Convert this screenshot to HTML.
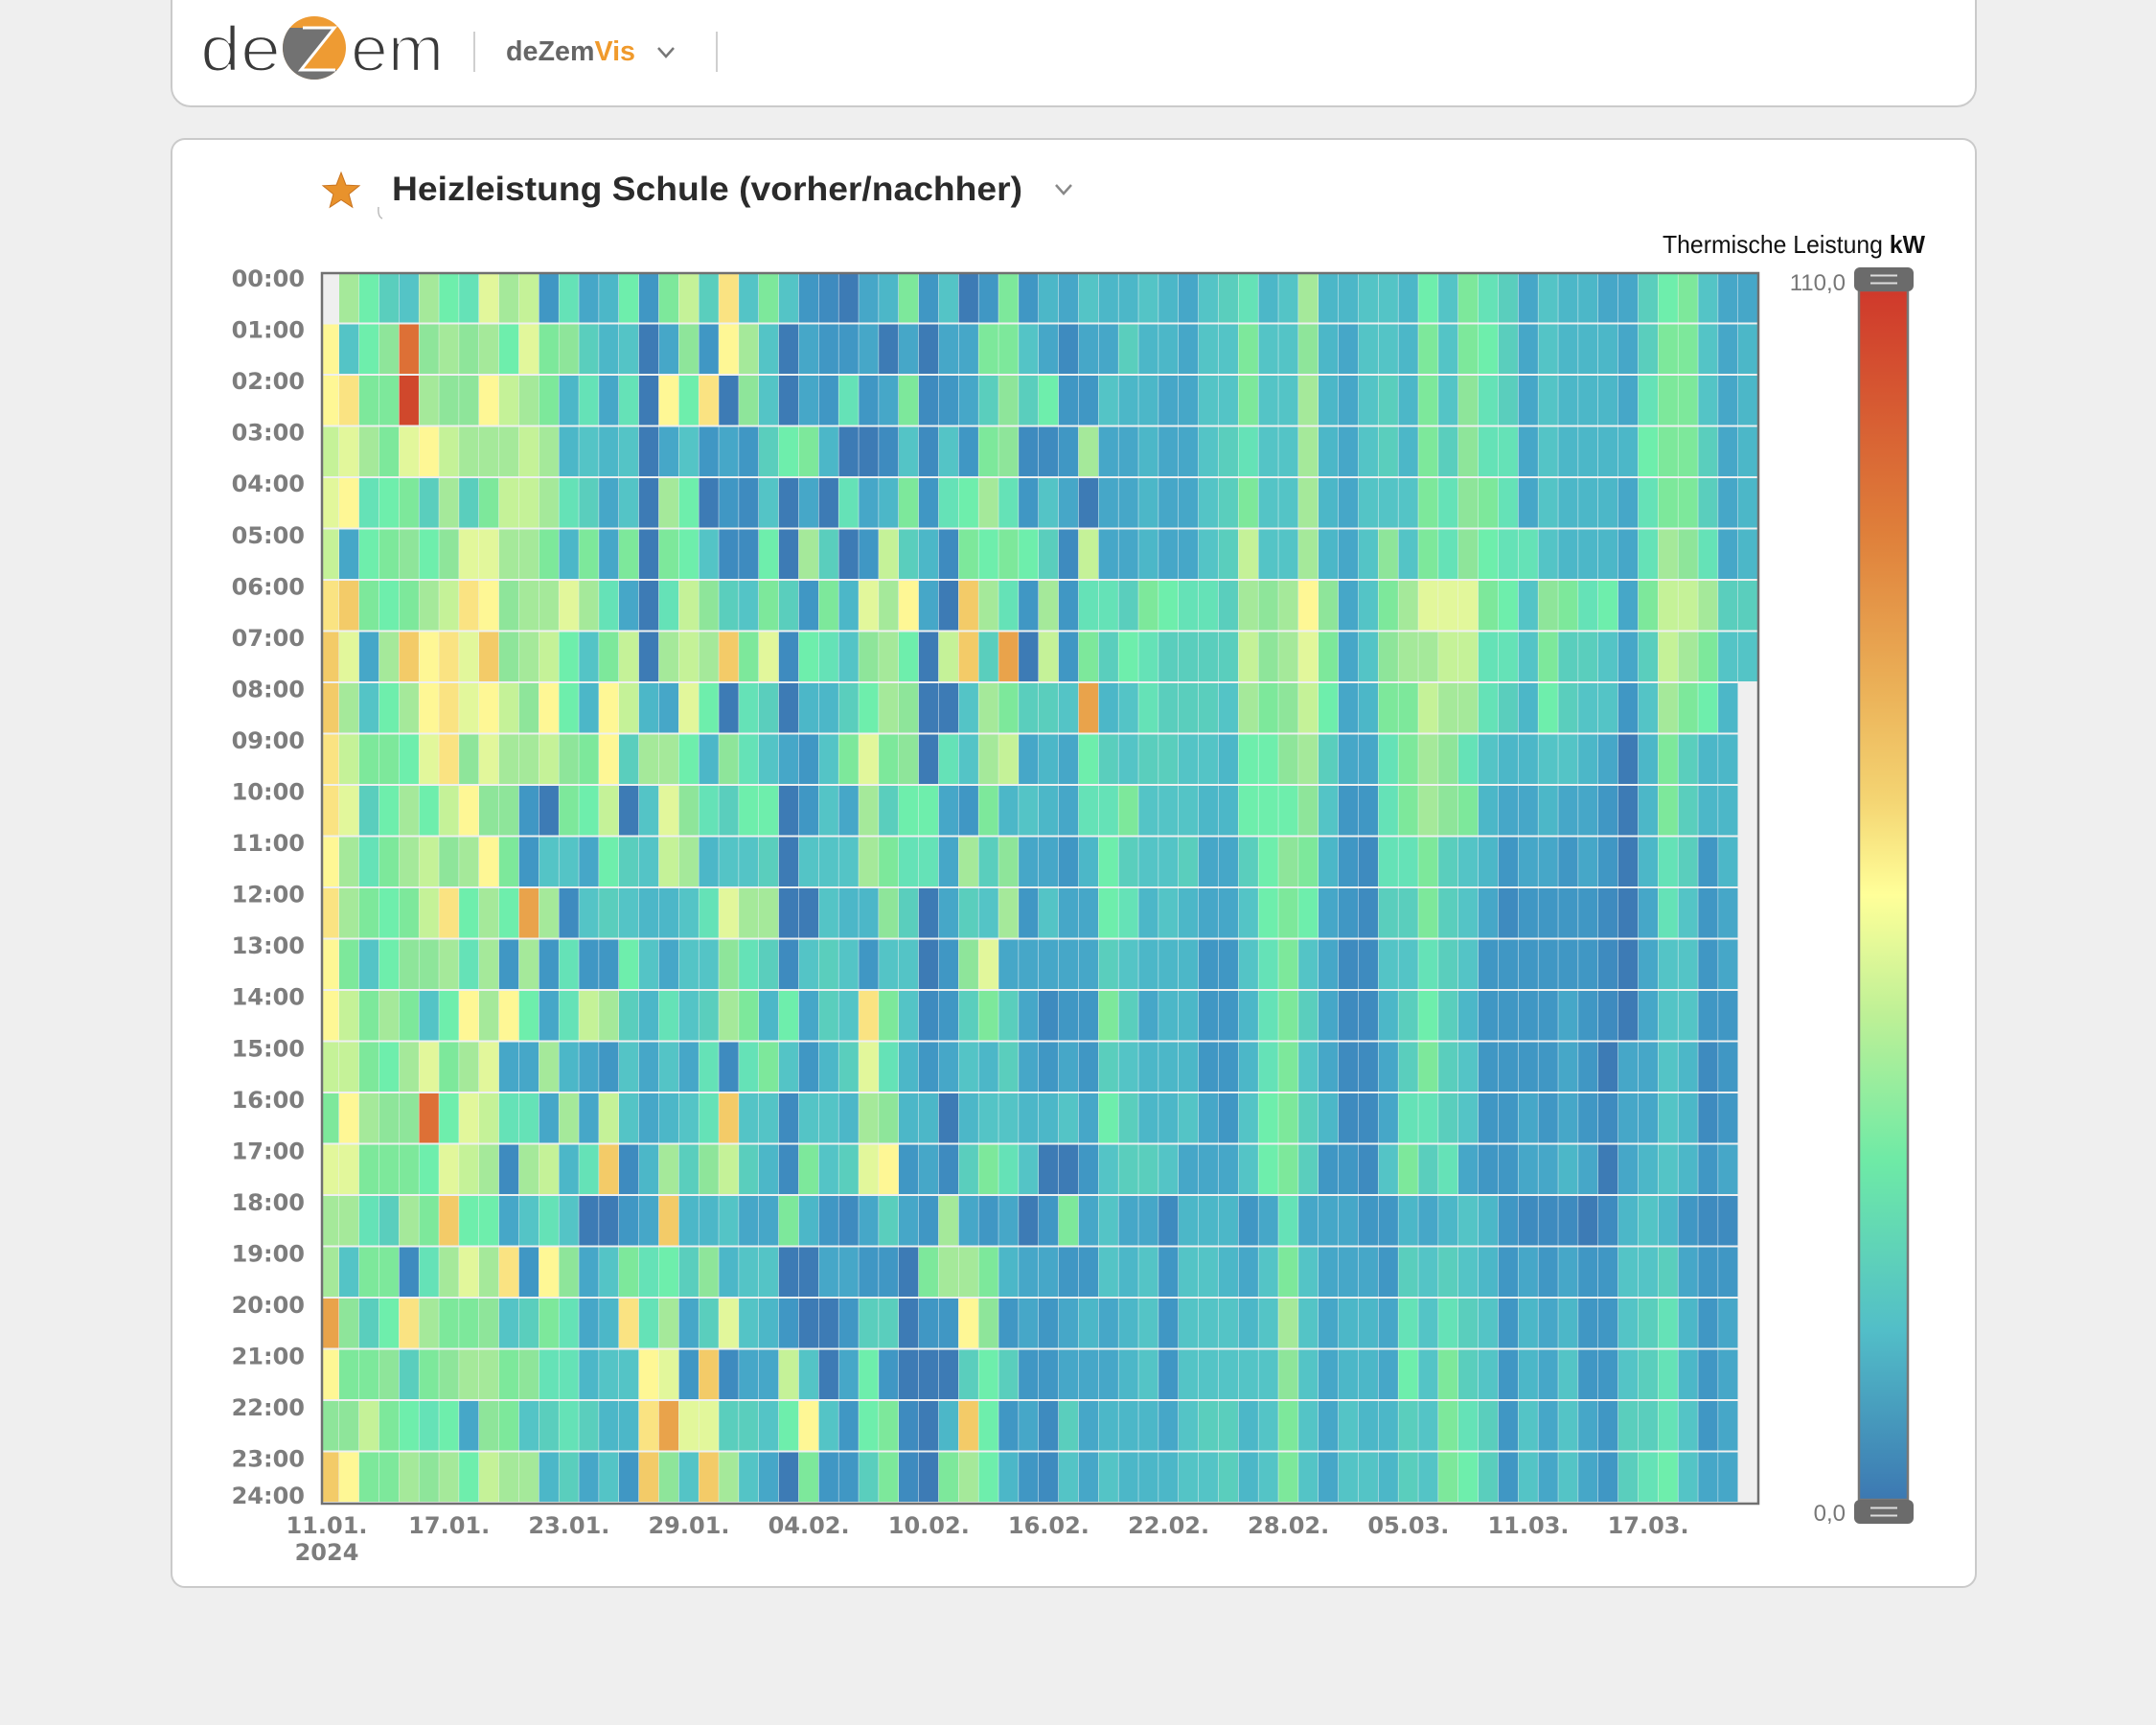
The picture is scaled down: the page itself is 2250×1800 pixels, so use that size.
<!DOCTYPE html>
<html>
<head>
<meta charset="utf-8">
<style>
html,body{margin:0;padding:0;background:#efefef;}
body{width:2250px;height:1800px;overflow:hidden;}
svg{display:block;}
</style>
</head>
<body>
<svg id="main" width="2250" height="1800" viewBox="0 0 2250 1800">
<defs>
<linearGradient id="cb" x1="0" y1="0" x2="0" y2="1">
<stop offset="0" stop-color="#cf392b"/>
<stop offset="0.2" stop-color="#df7f3a"/>
<stop offset="0.33" stop-color="#ebb158"/>
<stop offset="0.42" stop-color="#f4d472"/>
<stop offset="0.5" stop-color="#ffff99"/>
<stop offset="0.6" stop-color="#bdf096"/>
<stop offset="0.72" stop-color="#6eeaa6"/>
<stop offset="0.86" stop-color="#52bec8"/>
<stop offset="1" stop-color="#3c78b2"/>
</linearGradient>
<clipPath id="lc"><circle cx="328" cy="50" r="33"/></clipPath>
</defs>

<rect width="2250" height="1800" fill="#efefef"/>

<!-- top card -->
<rect x="179" y="-40" width="1883" height="151" rx="20" fill="#ffffff" stroke="#cacaca" stroke-width="2"/>
<!-- logo -->
<text x="209" y="74" font-family="Liberation Sans, sans-serif" font-size="67" fill="#3a3a3a" stroke="#ffffff" stroke-width="2.2" textLength="84" lengthAdjust="spacingAndGlyphs">de</text>
<g clip-path="url(#lc)">
<rect x="290" y="12" width="80" height="80" fill="#ee9b33"/>
<path d="M290,29 L348,29 L313,73 L370,73 L370,95 L290,95 Z" fill="#727272"/>
</g>
<polyline points="316,29 349,29 314,73 350,73" fill="none" stroke="#ffffff" stroke-width="3"/>
<text x="366" y="74" font-family="Liberation Sans, sans-serif" font-size="67" fill="#3a3a3a" stroke="#ffffff" stroke-width="2.2" textLength="97" lengthAdjust="spacingAndGlyphs">em</text>
<line x1="495" y1="33" x2="495" y2="75" stroke="#cfcfcf" stroke-width="2"/>
<text x="528" y="63" font-family="Liberation Sans, sans-serif" font-size="29" font-weight="bold" textLength="135" lengthAdjust="spacingAndGlyphs"><tspan fill="#666666">deZem</tspan><tspan fill="#f09a2c">Vis</tspan></text>
<polyline points="687,50 695,59 703,50" fill="none" stroke="#777777" stroke-width="2.5"/>
<line x1="748" y1="33" x2="748" y2="75" stroke="#cfcfcf" stroke-width="2"/>

<!-- main card -->
<rect x="179" y="145" width="1883" height="1511" rx="14" fill="#ffffff" stroke="#cacaca" stroke-width="2"/>

<!-- star -->
<polygon points="356,180 361,193.1 375,193.8 364.1,202.6 367.8,216.2 356,208.5 344.2,216.2 347.9,202.6 337,193.8 351,193.1" fill="#e8922c" stroke="#c9741f" stroke-width="1"/>
<path d="M395,216 Q394,226 399,228" fill="none" stroke="#bbbbbb" stroke-width="1.5"/>
<text x="409" y="209" font-family="Liberation Sans, sans-serif" font-size="35" font-weight="bold" fill="#2b2b2b" textLength="658" lengthAdjust="spacingAndGlyphs">Heizleistung Schule (vorher/nachher)</text>
<polyline points="1102,193 1110,202 1118,193" fill="none" stroke="#888888" stroke-width="2.5"/>

<!-- legend title -->
<text x="1735" y="264" font-family="Liberation Sans, sans-serif" font-size="26" fill="#111111" textLength="274" lengthAdjust="spacingAndGlyphs">Thermische Leistung <tspan font-weight="bold">kW</tspan></text>

<!-- plot background -->
<rect x="336" y="285" width="1499" height="1284" fill="#eef0f0"/>
<g id="cells"></g>
<rect x="1814" y="713" width="21" height="856" fill="#efefef"/>
<rect x="336" y="285" width="1499" height="1284" fill="none" stroke="#707070" stroke-width="2.5"/>

<!-- y labels -->
<g font-family="DejaVu Sans, sans-serif" font-weight="bold" font-size="24" fill="#7d7d7d" text-anchor="end">
<text x="318" y="299">00:00</text>
<text x="318" y="352.6">01:00</text>
<text x="318" y="406.1">02:00</text>
<text x="318" y="459.7">03:00</text>
<text x="318" y="513.2">04:00</text>
<text x="318" y="566.8">05:00</text>
<text x="318" y="620.3">06:00</text>
<text x="318" y="673.9">07:00</text>
<text x="318" y="727.4">08:00</text>
<text x="318" y="781">09:00</text>
<text x="318" y="834.5">10:00</text>
<text x="318" y="888.1">11:00</text>
<text x="318" y="941.6">12:00</text>
<text x="318" y="995.2">13:00</text>
<text x="318" y="1048.7">14:00</text>
<text x="318" y="1102.3">15:00</text>
<text x="318" y="1155.8">16:00</text>
<text x="318" y="1209.4">17:00</text>
<text x="318" y="1262.9">18:00</text>
<text x="318" y="1316.5">19:00</text>
<text x="318" y="1370">20:00</text>
<text x="318" y="1423.6">21:00</text>
<text x="318" y="1477.1">22:00</text>
<text x="318" y="1530.7">23:00</text>
<text x="318" y="1569">24:00</text>
</g>

<!-- x labels -->
<g font-family="DejaVu Sans, sans-serif" font-weight="bold" font-size="24" fill="#7d7d7d" text-anchor="middle">
<text x="341" y="1600">11.01.</text>
<text x="341" y="1628">2024</text>
<text x="468.7" y="1600">17.01.</text>
<text x="593.9" y="1600">23.01.</text>
<text x="719" y="1600">29.01.</text>
<text x="844.1" y="1600">04.02.</text>
<text x="969.3" y="1600">10.02.</text>
<text x="1094.4" y="1600">16.02.</text>
<text x="1219.6" y="1600">22.02.</text>
<text x="1344.7" y="1600">28.02.</text>
<text x="1469.9" y="1600">05.03.</text>
<text x="1595" y="1600">11.03.</text>
<text x="1720.1" y="1600">17.03.</text>
</g>

<!-- color bar -->
<rect x="1940" y="303" width="51" height="1262" fill="url(#cb)" stroke="#777777" stroke-width="2.5"/>
<rect x="1935" y="279" width="62" height="25" rx="6" fill="#6b6b6b"/>
<line x1="1952" y1="287.5" x2="1980" y2="287.5" stroke="#dddddd" stroke-width="2"/>
<line x1="1952" y1="295.5" x2="1980" y2="295.5" stroke="#dddddd" stroke-width="2"/>
<rect x="1935" y="1565" width="62" height="25" rx="6" fill="#6b6b6b"/>
<line x1="1952" y1="1573.5" x2="1980" y2="1573.5" stroke="#dddddd" stroke-width="2"/>
<line x1="1952" y1="1581.5" x2="1980" y2="1581.5" stroke="#dddddd" stroke-width="2"/>
<text x="1926" y="303" font-family="Liberation Sans, sans-serif" font-size="24" fill="#777777" text-anchor="end">110,0</text>
<text x="1926" y="1587" font-family="Liberation Sans, sans-serif" font-size="24" fill="#777777" text-anchor="end">0,0</text>
</svg>

<script>
(function(){
var R=[
"xgmNTgmMlgLBMbcmBGLNyTGTB|EDbcGBTDBGBcbTccTcbTNMcT|gccTTcmTGMNbTccbbNmGTbb",
"YTmHRHgHgmlGHNcTDbHBYgTDb|BBbDbDbbGGTbEbbNccbTTGTT|HcbTTcGTGmNbTcccbNGGTbc",
"YyGGrgHHYLgGcMbMDYmyDHTDb|BMBbGEBbNHNmBBTccbbTTGTT|gcbTNcGTHMNbTcccbMGGTbc",
"LlgGlYLgggLgcTcTDbTBbBNmG|cDDETETBGHEEBgbbcbbTNMTT|gcbTNcGNHMMbTccccmGGNbc",
"lYMmGNgNGLLgMNbTDgmDBETDb|DMbcGBMmgMBTbDbbcbbTNGTT|gcbTTTGMHGMbTcccbMGGNbc",
"LbmGHmHllggGcGbGDGmTEEmDg|NDBLNcEGmGmNELbbcbbTNLTT|gcbTHTGMHmMMTcccbMgHMbc",
"yOGmGgLyYHgglgMbDMLHNTGNB|GclgYbDOgMBgBMMNGmMMNgHg|YHbTGglllGmTHGMmbGLLgNN",
"OlbgOYylOHgLmTGLDgLgOGlEm|MTHgmDLONoDLBGNmMNNNNLHg|lGbTHggLLMMTGNNTbNLgGTT",
"OgTmgYylYLHYmcYLcblmDMNDc|cNmgHDDTgGNNTocTMNNNTgGH|LmbcGGLggMNcmNTTBTgGmcx",
"yLGGmlyHlggLHGYNggmcHMTbB|TGlGHDMTgLbcbmNTNNTTcmmH|gNbbMGgHMTccTTcbDcGNccx",
"ylNmgmLYHHBDGmLDTlHMNmmDB|TbgNmmbBGcTcbMMGTTTccmmm|HTBBMGgHGcbbcbbBDcGNccx",
"YgMGgLHgYGBTTbmNTLgcTTNDT|TTgGMMbgNHbbBcmNTTNbbNmH|GcBEMMGNTcBbbBbBDcMNBcx",
"ygGmGLymgmogETNTccTMlggDD|TccHNDbNTgBTbbmMcTcbbTmG|mbBENNGNTbEBBBBEDbMTBbx",
"YGTmHHgMgBgBMBBmTbTTHMNET|NTBTTDBHlbbbbbNTcccBBTMG|TbEETTMNTBBBBBBEDbTTBbx",
"YLGgGTmYgYmbMLgNcMTNgGcmb|NTyGTEBNGNbEBBGNbccBBcMG|NbEEcNmNcBBBBbBEDbTTBBx",
"LLGmglGglbbgcbBTbTbMEMGTB|cNlMcBbTcNbBbBNTcccBBcMG|TbEEbNGNTBBBBbBDbbTcEBx",
"GYgHHRmlLMMbgbLTbcTMOTTET|TcgHccDcTTccTbmNccTbBTmG|NcEEbMMNTBBbBbBEbbTcEBx",
"llGGGmlLgEgLcMOEcgNHLNcEG|TNlYBbENGMTDDBTNNTbbbTmG|NBBETGNMbBBbbcbDbcTcBbx",
"ggMNgGOmmbTMTDDBbOccTbbGc|BEbNbBgbBbDBGbTbbEcccBbM|bbbBBcbcTcBEEEDEcTcBEEx",
"gTGGEMglgyBYHbTGMmNHcTTDD|bbBBDGggGcbbBBTcTBTTcbTG|TbbbBNTNTcBbBbBBTTNbBBx",
"oHNmygGGHTNGMbcyMgbNlTcBD|DBNNDBBYHBbBbcbcTBTTTcTg|TbccbMTMNTBcbcBBTNMcBbx",
"YGGHNGHggGHMMcTTYlBOEbbLT|DbmBDDDNmNBBbbbcTBTTTTTH|TbccbmTGNTBcbTBBTNMcBbx",
"HHLGmMmbHGTNMNccyollNNTmY|TBmGEDcOmBbENbcccbTNNcTG|TbTccNTGMNBTbTbBNNMTBbx",
"OYGGgHgmLggcNbTBOHTOgTbDG|BBNGEDGgmcBETbTcccTTNcTG|TbTTcNTGmNBTbTbBNMmTbbx"
];
var P={D:"#3d7bb5",E:"#3e8bbf",B:"#4097c4",b:"#46a7c8",c:"#4cb7c8",T:"#54c4c6",N:"#5acebd",M:"#65e2b7",m:"#6eeeac",G:"#7de89b",H:"#8ee59a",g:"#a5e99a",L:"#c5f298",l:"#e2f79b",Y:"#fef795",y:"#fae382",O:"#f3cb68",o:"#e9a34b",R:"#dd7036",r:"#d0482c",x:"#efefef"};
var g=document.getElementById("cells");
var NS=g.namespaceURI;
var cw=20.857,x0=333.14,top=285,rh=53.5;
for(var r=0;r<24;r++){
  var s=R[r].replace(/\|/g,"");
  for(var c=0;c<72;c++){
    var ch=s.charAt(c)||"T";
    var x=x0+c*cw,w=cw-0.5;
    if(c===0){x=337;w=x0+cw-337-0.5;}
    var e=document.createElementNS(NS,"rect");
    e.setAttribute("x",x.toFixed(2));
    e.setAttribute("y",(top+r*rh).toFixed(2));
    e.setAttribute("width",w.toFixed(2));
    e.setAttribute("height",(rh-2).toFixed(2));
    e.setAttribute("fill",P[ch]||"#54c4c6");
    g.appendChild(e);
  }
}
})();
</script>
</body>
</html>
